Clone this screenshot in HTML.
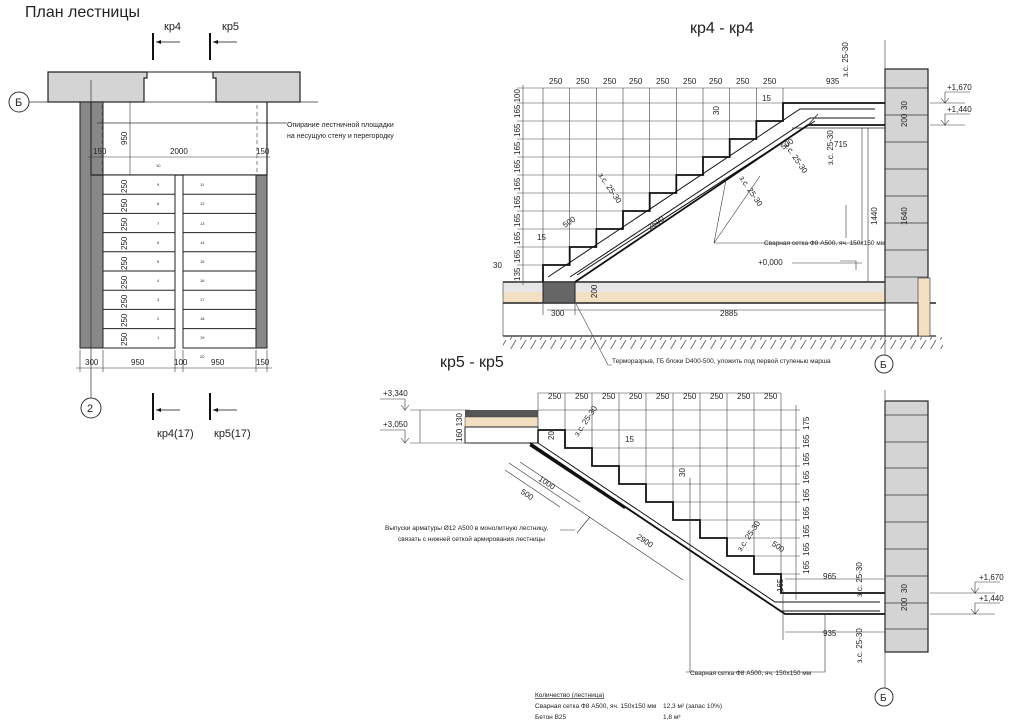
<!DOCTYPE html>
<html><head><meta charset="utf-8"><style>
html,body{margin:0;padding:0;background:#fff}
svg{display:block}
text{font-family:"Liberation Sans Narrow","Liberation Sans","DejaVu Sans Condensed",sans-serif;fill:#222}
.t{font-size:9px}.s{font-size:6px}.d{font-size:8px}
</style></head><body>
<svg width="1024" height="726" viewBox="0 0 1024 726" xmlns="http://www.w3.org/2000/svg">
<defs>
<pattern id="h" width="10" height="10" patternUnits="userSpaceOnUse"><path d="M0,10 L6,0" stroke="#555" stroke-width="0.8"/></pattern>
</defs>
<!-- ================= PLAN ================= -->
<text x="25" y="17" style="font-size:16px">План лестницы</text>
<path d="M48,72 H147 V78 H144 V102 H48 Z M213,72 H300 V102 H216 V78 H213 Z" fill="#d4d4d4" stroke="#222" stroke-width="1.2"/>
<line x1="48" y1="72" x2="300" y2="72" stroke="#222"/>
<line x1="27" y1="102" x2="318" y2="102" stroke="#333" stroke-width="0.8"/>
<circle cx="19" cy="102" r="10" fill="#fff" stroke="#333"/><text x="15" y="106" style="font-size:11px">Б</text>
<rect x="80" y="102" width="23" height="246" fill="#888" stroke="#222"/>
<rect x="256" y="175" width="11" height="173" fill="#888" stroke="#222"/>
<path d="M91,102 V175 H267 V102" fill="none" stroke="#222" stroke-width="1.2"/>
<line x1="91" y1="80" x2="91" y2="400" stroke="#333" stroke-width="0.7"/>
<line x1="102" y1="105" x2="102" y2="175" stroke="#555" stroke-dasharray="4,3" stroke-width="0.7"/>
<line x1="257" y1="105" x2="257" y2="175" stroke="#555" stroke-dasharray="4,3" stroke-width="0.7"/>
<line x1="97" y1="123" x2="287" y2="123" stroke="#333" stroke-width="0.7"/>
<text x="287" y="127" style="font-size:7px">Опирание лестничной площадки</text>
<text x="287" y="138" style="font-size:7px">на несущую стену и перегородку</text>
<line x1="130" y1="102" x2="130" y2="348" stroke="#333" stroke-width="0.6"/>
<line x1="88" y1="157" x2="270" y2="157" stroke="#333" stroke-width="0.6"/>
<text x="93" y="154" class="d">150</text><text x="170" y="154" class="d">2000</text><text x="256" y="154" class="d">150</text>
<text class="d" transform="translate(127,145) rotate(-90)">950</text>
<g fill="#fff" stroke="#222" stroke-width="1">
<rect x="103" y="175" width="72" height="173"/><rect x="183" y="175" width="73" height="173"/>
</g>
<g stroke="#222" stroke-width="1" fill="none">
<path d="M103,194.2H175M103,213.4H175M103,232.6H175M103,251.8H175M103,271H175M103,290.2H175M103,309.4H175M103,328.6H175"/>
<path d="M183,194.2H256M183,213.4H256M183,232.6H256M183,251.8H256M183,271H256M183,290.2H256M183,309.4H256M183,328.6H256"/>
</g>
<g style="font-size:8px">
<text transform="translate(127,193) rotate(-90)">250</text><text transform="translate(127,212) rotate(-90)">250</text><text transform="translate(127,231) rotate(-90)">250</text><text transform="translate(127,250) rotate(-90)">250</text><text transform="translate(127,270) rotate(-90)">250</text><text transform="translate(127,289) rotate(-90)">250</text><text transform="translate(127,308) rotate(-90)">250</text><text transform="translate(127,327) rotate(-90)">250</text><text transform="translate(127,346) rotate(-90)">250</text>
</g>
<g style="font-size:4px">
<text x="156" y="167">10</text><text x="157" y="186">9</text><text x="157" y="205">8</text><text x="157" y="225">7</text><text x="157" y="244">6</text><text x="157" y="263">5</text><text x="157" y="282">4</text><text x="157" y="301">3</text><text x="157" y="320">2</text><text x="157" y="339">1</text>
<text x="200" y="186">11</text><text x="200" y="205">12</text><text x="200" y="225">13</text><text x="200" y="244">14</text><text x="200" y="263">15</text><text x="200" y="282">16</text><text x="200" y="301">17</text><text x="200" y="320">18</text><text x="200" y="339">19</text><text x="200" y="358">20</text>
</g>
<line x1="76" y1="368" x2="272" y2="368" stroke="#333" stroke-width="0.6"/>
<path d="M80,350V372M103,350V372M175,350V372M183,350V372M256,350V372M267,350V372" stroke="#333" stroke-width="0.6" fill="none"/>
<text x="85" y="365" class="d">300</text><text x="131" y="365" class="d">950</text><text x="174" y="365" class="d">100</text><text x="211" y="365" class="d">950</text><text x="256" y="365" class="d">150</text>
<circle cx="91" cy="408" r="10" fill="#fff" stroke="#333"/><text x="87" y="412" style="font-size:11px">2</text>
<g stroke="#111" stroke-width="2" fill="none"><path d="M153,33V60M210,33V60M153,393V420M210,393V420"/></g>
<g stroke="#111" stroke-width="0.8" fill="none"><path d="M156,42H180M213,42H237M156,410H180M213,410H237"/></g>
<path d="M156,42l5,-2v4z M213,42l5,-2v4z M156,410l5,-2v4z M213,410l5,-2v4z" fill="#111"/>
<text x="164" y="30" style="font-size:11px">кр4</text><text x="222" y="30" style="font-size:11px">кр5</text>
<text x="157" y="437" style="font-size:11px">кр4(17)</text><text x="214" y="437" style="font-size:11px">кр5(17)</text>

<!-- ================= SECTION kr4 ================= -->
<text x="690" y="33" style="font-size:16px">кр4 - кр4</text>
<rect x="503" y="283" width="382" height="9" fill="#e6e6e6"/>
<rect x="503" y="292" width="382" height="11" fill="#f3dfc2"/>
<path d="M503,282H885M503,303H936" stroke="#222" stroke-width="1.4" fill="none"/>
<path d="M503,336H936" stroke="#222" stroke-width="1.2" fill="none"/>
<rect x="503" y="337" width="440" height="12" fill="url(#h)"/>
<line x1="503" y1="282" x2="503" y2="336" stroke="#333" stroke-width="0.6"/>
<rect x="543" y="282" width="32" height="21" fill="#666" stroke="#222"/>
<rect x="885" y="69" width="43" height="234" fill="#d4d4d4" stroke="#222" stroke-width="1.2"/>
<rect x="918" y="278" width="12" height="58" fill="#f3dfc2" stroke="#444" stroke-width="0.7"/>
<rect x="885" y="303" width="33" height="33" fill="#fff" stroke="#222"/>
<g stroke="#333" stroke-width="0.8" fill="none"><path d="M885,88H928M885,115H928M885,142H928M885,169H928M885,196H928M885,223H928M885,250H928M885,277H928"/></g>
<line x1="885" y1="40" x2="885" y2="355" stroke="#333" stroke-width="0.6"/>
<circle cx="884" cy="364" r="9" fill="#fff" stroke="#333"/><text x="880" y="368" style="font-size:10px">Б</text>
<g stroke="#444" stroke-width="0.6" fill="none">
<path d="M543,88V265M569.7,88V247M596.3,88V229M623,88V211M649.7,88V193M676.3,88V175M703,88V157M729.7,88V139M756.3,88V121M783,88V103M885,88V103"/>
<path d="M517,88H885M517,103H783M517,121H756M517,139H730M517,157H703M517,175H676M517,193H650M517,211H623M517,229H596M517,247H570M517,265H543M517,282H543"/>
<path d="M523,85V285"/>
<path d="M608,365L574,300 M608,365H612"/>
</g>
<g class="d">
<text x="549" y="84">250</text><text x="576" y="84">250</text><text x="603" y="84">250</text><text x="629" y="84">250</text><text x="656" y="84">250</text><text x="683" y="84">250</text><text x="709" y="84">250</text><text x="736" y="84">250</text><text x="763" y="84">250</text><text x="826" y="84">935</text>
<text transform="translate(520,118) rotate(-90)">165 100</text><text transform="translate(520,137) rotate(-90)">165</text><text transform="translate(520,155) rotate(-90)">165</text><text transform="translate(520,173) rotate(-90)">165</text><text transform="translate(520,191) rotate(-90)">165</text><text transform="translate(520,209) rotate(-90)">165</text><text transform="translate(520,227) rotate(-90)">165</text><text transform="translate(520,245) rotate(-90)">165</text><text transform="translate(520,263) rotate(-90)">165</text><text transform="translate(520,281) rotate(-90)">135</text>
<text x="493" y="268">30</text>
<text x="551" y="316">300</text><text x="720" y="316">2885</text>
<text x="762" y="101">15</text><text x="834" y="147">715</text>
<text transform="translate(719,115) rotate(-90)">30</text>
<text transform="translate(877,225) rotate(-90)">1440</text><text transform="translate(907,225) rotate(-90)">1640</text>
<text transform="translate(907,110) rotate(-90)">30</text><text transform="translate(907,127) rotate(-90)">200</text>
<text transform="translate(848,77) rotate(-90)">з.с. 25-30</text>
<text transform="translate(650,230) rotate(-34)">2590</text>
<text transform="translate(565,228) rotate(-34)">500</text>
<text transform="translate(783,150) rotate(-34)">500</text>
<text transform="translate(598,175) rotate(56)">з.с. 25-30</text>
<text transform="translate(739,178) rotate(56)">з.с. 25-30</text>
<text transform="translate(784,145) rotate(56)">з.с. 25-30</text>
<text transform="translate(833,165) rotate(-90)">з.с. 25-30</text>
<text transform="translate(597,298) rotate(-90)">200</text>
<text x="537" y="240">15</text>
</g>
<g stroke="#333" stroke-width="0.6" fill="none"><path d="M547,310H885M543,304V315M885,304V315M575,304V315"/></g>
<path d="M543,282 V265 H569.7 V247 H596.3 V229 H623 V211 H649.7 V193 H676.3 V175 H703 V157 H729.7 V139 H756.3 V121 H783 V103 H885" fill="none" stroke="#111" stroke-width="1.8"/>
<path d="M575,282 L808,125 H885" fill="none" stroke="#111" stroke-width="1.8"/>
<path d="M548,277 L800,109 H875 M570,277 L810,118 H875 M577,275 L815,121" fill="none" stroke="#111" stroke-width="1"/>
<path d="M808,125 L818,114 M792,128 H885" fill="none" stroke="#222" stroke-width="0.8"/>
<g stroke="#333" stroke-width="0.6" fill="none">
<path d="M714,243 L726,180 M714,243 L760,176 M714,243H862V128"/>
<path d="M868,128V282 M846,205 V238"/>
<path d="M840,261 H856 V270 M792,263H862"/>
</g>
<text x="764" y="245" style="font-size:6.5px">Сварная сетка Ф8 А500, яч. 150х150 мм</text>
<text x="758" y="265" class="d">+0,000</text>
<text x="612" y="363" style="font-size:6.5px">Терморазрыв, ГБ блоки D400-500, уложить под первой ступенью марша</text>
<g stroke="#333" stroke-width="0.6" fill="none"><path d="M930,103H965M945,92V103l-4,-5M945,103l4,-5 M930,125H965M945,114V125l-4,-5M945,125l4,-5 M945,92H970M945,114H970"/></g>
<text x="947" y="90" class="d">+1,670</text><text x="947" y="112" class="d">+1,440</text>

<!-- ================= SECTION kr5 ================= -->
<text x="440" y="367" style="font-size:16px">кр5 - кр5</text>
<rect x="885" y="401" width="43" height="251" fill="#d4d4d4" stroke="#222" stroke-width="1.2"/>
<g stroke="#333" stroke-width="0.8" fill="none"><path d="M885,415H928M885,442H928M885,468H928M885,495H928M885,522H928M885,549H928M885,576H928M885,603H928M885,629H928"/></g>
<line x1="885" y1="390" x2="885" y2="688" stroke="#333" stroke-width="0.6"/>
<circle cx="884" cy="697" r="9" fill="#fff" stroke="#333"/><text x="880" y="701" style="font-size:10px">Б</text>
<rect x="465" y="410" width="73" height="7" fill="#555"/>
<rect x="465" y="417" width="73" height="10" fill="#f3dfc2" stroke="#444" stroke-width="0.5"/>
<rect x="465" y="427" width="73" height="16" fill="#fff" stroke="#222"/>
<g stroke="#444" stroke-width="0.6" fill="none">
<path d="M538,393V430 M565,393V448 M592,393V466 M619,393V484 M646,393V502 M673,393V520 M700,393V538 M727,393V556 M754,393V574 M781,393V593"/>
<path d="M538,393H781 M538,410H800 M565,430H800 M592,448H800 M619,466H800 M646,484H800 M673,502H800 M700,520H800 M727,538H800 M754,556H800 M781,574H800"/>
<path d="M796,405V600"/>
<path d="M410,410H470 M410,443H470 M420,410V443"/>
</g>
<path d="M538,430 H565 V448 H592 V466 H619 V484 H646 V502 H673 V520 H700 V538 H727 V556 H754 V574 H781 V593 H885" fill="none" stroke="#111" stroke-width="1.8"/>
<path d="M530,443 L785,614 H885" fill="none" stroke="#111" stroke-width="1.8"/>
<path d="M538,443 L775,602 H880 M535,447 L780,611 H880" fill="none" stroke="#111" stroke-width="1"/>
<path d="M538,430V443" stroke="#111" stroke-width="1.5" fill="none"/>
<path d="M530,445 L625,508" stroke="#111" stroke-width="2.4" fill="none"/>
<g stroke="#333" stroke-width="0.6" fill="none">
<path d="M509,463 L683,580 M505,470 L560,507 M520,462 L580,502"/>
<path d="M690,478 V672 H686 M690,672 H825 V614"/>
<path d="M577,533 L590,517 M575,530H560"/>
<path d="M783,590V640 M785,632H885 M785,579H885"/>
</g>
<g class="d">
<text x="548" y="399">250</text><text x="575" y="399">250</text><text x="602" y="399">250</text><text x="629" y="399">250</text><text x="656" y="399">250</text><text x="683" y="399">250</text><text x="710" y="399">250</text><text x="737" y="399">250</text><text x="764" y="399">250</text>
<text transform="translate(809,430) rotate(-90)">175</text><text transform="translate(809,448) rotate(-90)">165</text><text transform="translate(809,466) rotate(-90)">165</text><text transform="translate(809,484) rotate(-90)">165</text><text transform="translate(809,502) rotate(-90)">165</text><text transform="translate(809,520) rotate(-90)">165</text><text transform="translate(809,538) rotate(-90)">165</text><text transform="translate(809,556) rotate(-90)">165</text><text transform="translate(809,574) rotate(-90)">165</text><text transform="translate(783,592) rotate(-90)">165</text>
<text x="823" y="579">965</text><text x="823" y="636">935</text>
<text transform="translate(907,593) rotate(-90)">30</text><text transform="translate(907,611) rotate(-90)">200</text>
<text transform="translate(862,597) rotate(-90)">з.с. 25-30</text><text transform="translate(862,663) rotate(-90)">з.с. 25-30</text>
<text transform="translate(462,442) rotate(-90)">160 130</text>
<text transform="translate(554,440) rotate(-90)">20</text>
<text transform="translate(578,437) rotate(-56)">з.с. 25-30</text>
<text transform="translate(741,552) rotate(-56)">з.с. 25-30</text>
<text x="625" y="442">15</text><text transform="translate(685,477) rotate(-90)">30</text>
<text transform="translate(538,480) rotate(34)">1000</text>
<text transform="translate(520,493) rotate(34)">500</text>
<text transform="translate(636,538) rotate(34)">2900</text>
<text transform="translate(771,545) rotate(34)">500</text>
<text x="383" y="396">+3,340</text><text x="383" y="427">+3,050</text>
</g>
<g stroke="#333" stroke-width="0.6" fill="none"><path d="M380,399H405 M405,399V410 l-4,-5 M405,410 l4,-5 M380,430H405 M405,430V443 l-4,-5 M405,443 l4,-5"/>
<path d="M930,593H995 M975,582V593l-4,-5M975,593l4,-5 M975,582H1000 M930,614H995 M975,603V614l-4,-5M975,614l4,-5 M975,603H1000"/></g>
<text x="979" y="580" class="d">+1,670</text><text x="979" y="601" class="d">+1,440</text>
<text x="385" y="530" style="font-size:6.5px">Выпуски арматуры Ø12 А500 в монолитную лестницу,</text>
<text x="398" y="541" style="font-size:6.5px">связать с нижней сеткой армирования лестницы</text>
<text x="690" y="675" style="font-size:6.5px">Сварная сетка Ф8 А500, яч. 150х150 мм</text>
<g style="font-size:6.5px">
<text x="535" y="697" text-decoration="underline">Количество (лестница)</text>
<text x="535" y="708">Сварная сетка Ф8 А500, яч. 150х150 мм</text>
<text x="535" y="719">Бетон В25</text>
<text x="663" y="708">12,3 м² (запас 10%)</text>
<text x="663" y="719">1,8 м³</text>
</g>
</svg>
</body></html>
